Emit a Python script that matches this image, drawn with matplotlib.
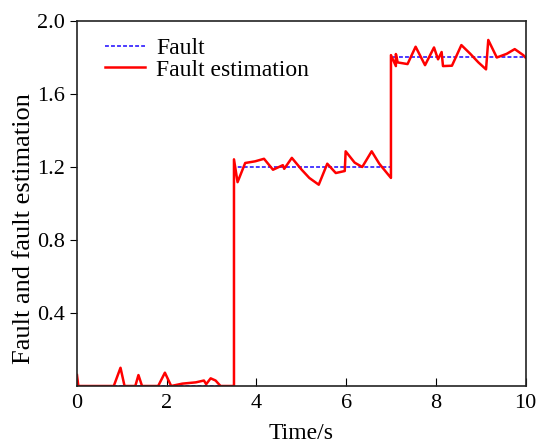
import matplotlib
matplotlib.use("Agg")
import matplotlib.pyplot as plt

# Fault (step signal)
fault_t = [0, 3.5, 3.5, 7.0, 7.0, 10.0]
fault_v = [0, 0, 1.2, 1.2, 1.8, 1.8]

# Fault estimation
est_t = [0.0, 0.03, 0.82, 0.97, 1.06, 1.30, 1.37, 1.45, 1.81, 1.96, 2.10, 2.35, 2.65, 2.83, 2.88,
         2.98, 3.09, 3.20, 3.50, 3.50, 3.58, 3.75, 3.97, 4.17, 4.37, 4.59, 4.62, 4.79, 5.01,
         5.18, 5.39, 5.58, 5.77, 5.97, 5.99, 6.19, 6.36, 6.57, 6.74, 7.00, 7.00, 7.11, 7.11,
         7.15, 7.37, 7.55, 7.76, 7.96, 8.05, 8.13, 8.16, 8.36, 8.57, 8.77, 8.95, 9.12, 9.17,
         9.36, 9.58, 9.76, 9.95, 10.0]
est_v = [0.06, 0.0, 0.0, 0.10, 0.0, 0.0, 0.06, 0.0, 0.0, 0.073, 0.0, 0.013, 0.02, 0.03, 0.01,
         0.042, 0.03, 0.0, 0.0, 1.242, 1.117, 1.222, 1.231, 1.245, 1.185, 1.21, 1.19, 1.25, 1.185,
         1.14, 1.103, 1.218, 1.167, 1.178, 1.286, 1.224, 1.20, 1.286, 1.218, 1.14, 1.813, 1.753, 1.819,
         1.773, 1.764, 1.859, 1.758, 1.855, 1.79, 1.83, 1.753, 1.755, 1.868, 1.82, 1.773, 1.735, 1.896,
         1.80, 1.82, 1.846, 1.813, 1.80]

x_ticks = [0, 2, 4, 6, 8, 10]
y_ticks = [0.4, 0.8, 1.2, 1.6, 2.0]

plt.rcParams['font.family'] = ['Liberation Serif', 'DejaVu Serif']

W, H = 537, 444
L, R, T, B = 77, 525.5, 21, 386
fig = plt.figure(figsize=(W / 100, H / 100), dpi=100)
ax = fig.add_axes([L / W, (H - B) / H, (R - L) / W, (B - T) / H])

ax.plot(fault_t, fault_v, color='#4b3bff', linestyle=(0, (2.0, 1.1)), linewidth=1.4, label='Fault')
ax.plot(est_t, est_v, color='#ff0000', linewidth=1.8, label='Fault estimation')

ax.set_xlim(0, 10)
ax.set_ylim(0, 2.0)
ax.set_xticks(x_ticks)
ax.set_yticks(y_ticks)
ax.set_xticklabels([str(v) for v in x_ticks])
ax.set_yticklabels([f"{v:.1f}" for v in y_ticks])
ax.tick_params(axis='x', direction='in', length=6, labelsize=16, pad=6)
ax.tick_params(axis='y', direction='out', length=5, labelsize=16)
for s in ax.spines.values():
    s.set_linewidth(1.2)
    s.set_color('#222222')

ax.set_xlabel('Time/s', fontsize=17, labelpad=7)
ax.set_ylabel('Fault and fault estimation', fontsize=19)
ax.yaxis.set_label_coords(-0.094, 0.43)

ax.legend(loc='upper left', frameon=False, fontsize=17, handlelength=1.7,
          handletextpad=0.45, labelspacing=0.0, borderaxespad=0.3, bbox_to_anchor=(0.026, 1.0))

fig.savefig('out.png', dpi=100)
